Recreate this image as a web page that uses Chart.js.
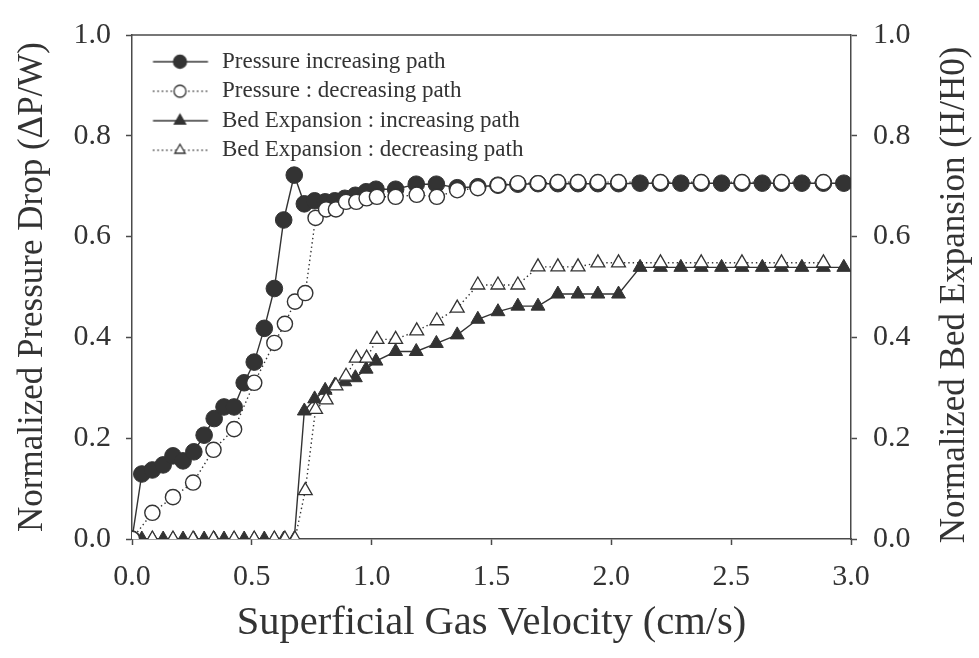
<!DOCTYPE html>
<html><head><meta charset="utf-8">
<script src="https://cdn.jsdelivr.net/npm/chart.js@4.4.1/dist/chart.umd.min.js"></script>
<style>html,body{margin:0;padding:0;background:#fff;}</style>
</head><body>
<canvas id="c" width="979" height="658"></canvas>
<script>
// ---- data ----
const incVelocity = [0, 0.041, 0.085, 0.13, 0.171, 0.213, 0.258, 0.301, 0.343, 0.384, 0.426, 0.468, 0.51, 0.552, 0.594, 0.633, 0.677,
  0.719, 0.762, 0.806, 0.846, 0.888, 0.932, 0.977, 1.018, 1.10, 1.186, 1.27,
  1.357, 1.443, 1.527, 1.61, 1.694, 1.777, 1.861, 1.944, 2.03,
  2.12, 2.205, 2.29, 2.375, 2.46, 2.545, 2.63, 2.71, 2.795, 2.885, 2.97];
const pressureIncreasing = [0, 0.129, 0.137, 0.147, 0.165, 0.155, 0.173, 0.206, 0.239, 0.262, 0.262, 0.310, 0.351, 0.418, 0.497, 0.633, 0.722,
  0.665, 0.671, 0.669, 0.671, 0.676, 0.682, 0.689, 0.694, 0.694, 0.704, 0.704,
  0.697, 0.699, 0.702, 0.704, 0.705, 0.705, 0.705, 0.705, 0.705,
  0.706, 0.706, 0.706, 0.706, 0.706, 0.706, 0.706, 0.706, 0.706, 0.706, 0.706];
const bedIncreasing = [0, 0, 0, 0, 0, 0, 0, 0, 0, 0, 0, 0, 0, 0, 0, 0, 0,
  0.254, 0.278, 0.295, 0.305, 0.312, 0.320, 0.337, 0.353, 0.372, 0.372, 0.388,
  0.405, 0.436, 0.451, 0.462, 0.462, 0.486, 0.486, 0.486, 0.486,
  0.539, 0.539, 0.539, 0.539, 0.539, 0.539, 0.539, 0.539, 0.539, 0.539, 0.539];
const decVelocity = [0, 0.085, 0.171, 0.255, 0.34, 0.426, 0.51, 0.594, 0.638, 0.68,
  0.723, 0.766, 0.81, 0.851, 0.893, 0.936, 0.979, 1.022, 1.10, 1.188, 1.272,
  1.357, 1.443, 1.527, 1.61, 1.694, 1.777, 1.861, 1.944, 2.03,
  2.205, 2.375, 2.545, 2.71, 2.885];
const pressureDecreasing = [0, 0.052, 0.083, 0.112, 0.177, 0.218, 0.310, 0.389, 0.427, 0.471,
  0.488, 0.637, 0.654, 0.654, 0.669, 0.669, 0.676, 0.679, 0.679, 0.683, 0.679,
  0.692, 0.696, 0.702, 0.706, 0.706, 0.708, 0.708, 0.708, 0.708,
  0.708, 0.708, 0.708, 0.708, 0.708];
const bedDecreasing = [0, 0, 0, 0, 0, 0, 0, 0, 0, 0,
  0.096, 0.257, 0.276, 0.304, 0.323, 0.359, 0.359, 0.396, 0.396, 0.413, 0.433,
  0.458, 0.504, 0.504, 0.504, 0.540, 0.540, 0.540, 0.548, 0.548,
  0.548, 0.548, 0.548, 0.548, 0.548];
const seriesNames = ['Pressure increasing path', 'Pressure : decreasing path',
  'Bed Expansion : increasing path', 'Bed Expansion : decreasing path'];
const xTitle = 'Superficial Gas Velocity (cm/s)';
const yLeftTitle = 'Normalized Pressure Drop (\u0394P/W)';
const yRightTitle = 'Normalized Bed Expansion (H/H0)';
const xRange = [0, 3.0], xStep = 0.5;
const yRange = [0, 1.0], yStep = 0.2;

// ---- styling ----
const INK = '#333333';
const AXIS = '#4a4a4a';
const FONT = '"Liberation Serif", "Times New Roman", serif';
Chart.defaults.font.family = FONT;
Chart.defaults.color = INK;

const pts = (xs, ys) => xs.map((x, i) => ({x, y: ys[i]}));

function legendSample(dotted, shape, filled) {
  const c = document.createElement('canvas');
  c.width = 70; c.height = 20;
  const g = c.getContext('2d');
  g.strokeStyle = INK; g.lineWidth = 1.4;
  if (dotted) g.setLineDash([1.4, 3]);
  g.beginPath(); g.moveTo(13.5, 10); g.lineTo(68.5, 10); g.stroke();
  g.setLineDash([]);
  g.fillStyle = filled ? INK : '#ffffff';
  g.lineWidth = 1.3;
  const cx = 40.5, cy = 10;
  g.beginPath();
  if (shape === 'circle') {
    g.arc(cx, cy, filled ? 6.5 : 6, 0, Math.PI * 2);
  } else {
    const r = filled ? 6.5 : 6;
    g.moveTo(cx, cy - r);
    g.lineTo(cx + r * Math.sin(Math.PI * 2 / 3), cy - r * Math.cos(Math.PI * 2 / 3));
    g.lineTo(cx - r * Math.sin(Math.PI * 2 / 3), cy - r * Math.cos(Math.PI * 2 / 3));
    g.closePath();
  }
  g.fill(); g.stroke();
  return c;
}
const legendImages = [
  legendSample(false, 'circle', true),
  legendSample(true, 'circle', false),
  legendSample(false, 'triangle', true),
  legendSample(true, 'triangle', false)
];

const frame = {
  id: 'frame',
  afterDraw(chart) {
    const {ctx, chartArea: a} = chart;
    ctx.save();
    ctx.strokeStyle = AXIS; ctx.lineWidth = 1.5;
    ctx.beginPath(); ctx.moveTo(a.left, a.top); ctx.lineTo(a.right, a.top); ctx.stroke();
    // right-hand axis title, read bottom-to-top like the left one
    ctx.translate(chart.width - 24, (a.top + a.bottom) / 2 + 8);
    ctx.rotate(-Math.PI / 2);
    ctx.font = '35px ' + FONT;
    ctx.fillStyle = INK;
    ctx.textAlign = 'center'; ctx.textBaseline = 'middle';
    ctx.fillText(yRightTitle, 0, 0);
    ctx.restore();
  }
};

const tickFmt = v => Number(v).toFixed(1);
const gridOpts = {drawOnChartArea: false, drawTicks: true, tickLength: 6, tickColor: AXIS, tickWidth: 1.5};
const borderOpts = {display: true, color: AXIS, width: 1.5};

new Chart(document.getElementById('c'), {
  type: 'line',
  data: {
    datasets: [
      {label: seriesNames[0], data: pts(incVelocity, pressureIncreasing), yAxisID: 'y', order: 3,
       borderColor: INK, borderWidth: 1.4, pointStyle: 'circle', pointRadius: 8.3,
       pointBackgroundColor: INK, pointBorderColor: INK, pointBorderWidth: 1},
      {label: seriesNames[1], data: pts(decVelocity, pressureDecreasing), yAxisID: 'y', order: 1,
       borderColor: INK, borderWidth: 1.4, borderDash: [1.4, 3], pointStyle: 'circle', pointRadius: 7.6,
       pointBackgroundColor: '#ffffff', pointBorderColor: INK, pointBorderWidth: 1.4},
      {label: seriesNames[2], data: pts(incVelocity, bedIncreasing), yAxisID: 'y2', order: 4,
       borderColor: INK, borderWidth: 1.4, pointStyle: 'triangle', pointRadius: 8,
       pointBackgroundColor: INK, pointBorderColor: INK, pointBorderWidth: 1},
      {label: seriesNames[3], data: pts(decVelocity, bedDecreasing), yAxisID: 'y2', order: 2,
       borderColor: INK, borderWidth: 1.4, borderDash: [1.4, 3], pointStyle: 'triangle', pointRadius: 8,
       pointBackgroundColor: '#ffffff', pointBorderColor: INK, pointBorderWidth: 1.3}
    ]
  },
  options: {
    responsive: false,
    animation: false,
    devicePixelRatio: 1,
    layout: {padding: {top: 35, left: 0, right: 0, bottom: 0}},
    elements: {line: {tension: 0}, point: {hoverRadius: 8}},
    scales: {
      x: {
        type: 'linear', position: 'bottom', min: xRange[0], max: xRange[1],
        ticks: {stepSize: xStep, callback: tickFmt, font: {size: 30}, color: INK, padding: 14, maxRotation: 0, autoSkip: false},
        grid: gridOpts, border: borderOpts,
        title: {display: true, text: xTitle, font: {size: 40.5}, color: INK, padding: {top: 0, bottom: 10}},
        afterFit(s) { s.height = 119; }
      },
      y: {
        type: 'linear', position: 'left', min: yRange[0], max: yRange[1],
        ticks: {stepSize: yStep, callback: tickFmt, font: {size: 30}, color: INK, padding: 15},
        grid: gridOpts, border: borderOpts,
        title: {display: true, text: yLeftTitle, font: {size: 35}, color: INK, padding: {top: 12, bottom: 0}},
        afterFit(s) { s.width = 132; }
      },
      y2: {
        type: 'linear', position: 'right', min: yRange[0], max: yRange[1],
        ticks: {stepSize: yStep, callback: tickFmt, font: {size: 30}, color: INK, padding: 16},
        grid: gridOpts, border: borderOpts,
        afterFit(s) { s.width = 128; }
      }
    },
    plugins: {
      tooltip: {enabled: false},
      legend: {
        position: 'chartArea', align: 'start',
        title: {display: true, text: '', padding: {top: 0, bottom: 36.5}, font: {size: 6}},
        labels: {
          usePointStyle: true, pointStyleWidth: 72, padding: 6.5,
          font: {size: 23}, color: INK,
          sort: (a, b) => a.datasetIndex - b.datasetIndex,
          generateLabels(chart) {
            const items = Chart.defaults.plugins.legend.labels.generateLabels(chart);
            items.forEach(it => { it.pointStyle = legendImages[it.datasetIndex]; });
            return items;
          }
        }
      }
    }
  },
  plugins: [frame]
});
</script>
</body></html>
